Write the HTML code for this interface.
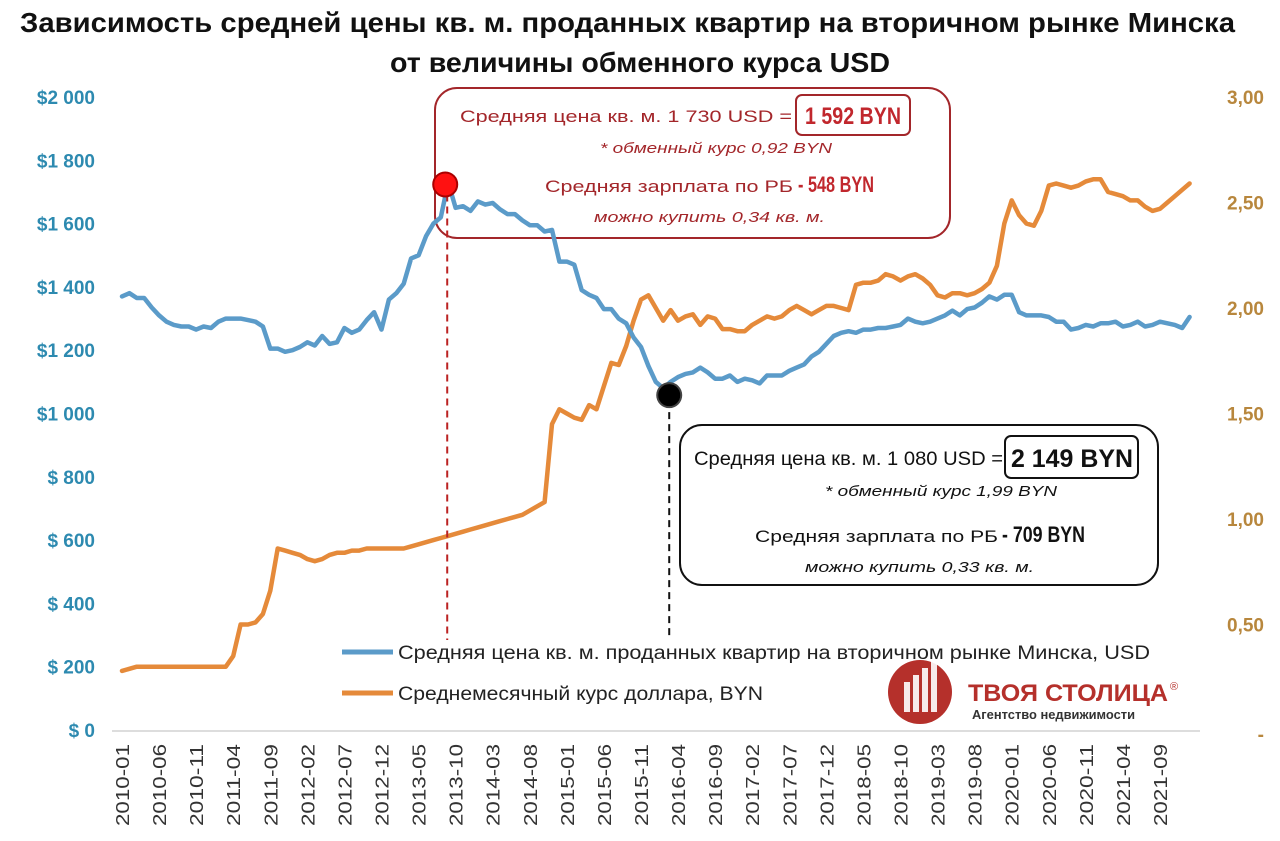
<!DOCTYPE html>
<html><head><meta charset="utf-8">
<style>
body{margin:0;background:#fff;font-family:"Liberation Sans",sans-serif;}
#wrap{position:relative;width:1280px;height:841px;overflow:hidden;background:#fff}
</style></head><body>
<div id="wrap">
<svg id="svg" width="1280" height="841" style="position:absolute;left:0;top:0"></svg>
</div>
<script>
const priceUSD=[1370,1380,1365,1365,1335,1310,1290,1280,1275,1275,1265,1275,1270,1290,1300,1300,1300,1295,1290,1275,1205,1205,1195,1200,1210,1225,1215,1245,1220,1225,1270,1255,1265,1295,1320,1265,1360,1380,1410,1490,1500,1560,1600,1620,1730,1650,1655,1640,1670,1660,1665,1645,1630,1630,1610,1595,1595,1575,1580,1480,1480,1470,1390,1375,1365,1330,1330,1300,1285,1240,1210,1150,1100,1080,1100,1115,1125,1130,1145,1130,1110,1110,1120,1100,1110,1105,1095,1120,1120,1120,1135,1145,1155,1180,1195,1220,1245,1255,1260,1255,1265,1265,1270,1270,1275,1280,1300,1290,1285,1290,1300,1310,1325,1310,1330,1335,1350,1370,1360,1375,1375,1320,1310,1310,1310,1305,1290,1290,1265,1270,1280,1275,1285,1285,1290,1275,1280,1290,1275,1280,1290,1285,1280,1270,1305];
const rateBYN=[0.28,0.29,0.30,0.30,0.30,0.30,0.30,0.30,0.30,0.30,0.30,0.30,0.30,0.30,0.30,0.35,0.50,0.50,0.51,0.55,0.66,0.86,0.85,0.84,0.83,0.81,0.80,0.81,0.83,0.84,0.84,0.85,0.85,0.86,0.86,0.86,0.86,0.86,0.86,0.87,0.88,0.89,0.90,0.91,0.92,0.93,0.94,0.95,0.96,0.97,0.98,0.99,1.00,1.01,1.02,1.04,1.06,1.08,1.45,1.52,1.50,1.48,1.47,1.54,1.52,1.63,1.74,1.73,1.82,1.94,2.04,2.06,2.00,1.94,1.99,1.94,1.96,1.97,1.92,1.96,1.95,1.90,1.90,1.89,1.89,1.92,1.94,1.96,1.95,1.96,1.99,2.01,1.99,1.97,1.99,2.01,2.01,2.00,1.99,2.11,2.12,2.12,2.13,2.16,2.15,2.13,2.15,2.16,2.14,2.11,2.06,2.05,2.07,2.07,2.06,2.07,2.09,2.12,2.20,2.40,2.51,2.44,2.40,2.39,2.46,2.58,2.59,2.58,2.57,2.58,2.60,2.61,2.61,2.55,2.54,2.53,2.51,2.51,2.48,2.46,2.47,2.50,2.53,2.56,2.59];
const leftTicks=[0,200,400,600,800,1000,1200,1400,1600,1800,2000];
const leftLabels=["$ 0","$ 200","$ 400","$ 600","$ 800","$1 000","$1 200","$1 400","$1 600","$1 800","$2 000"];
const rightTicks=[0,0.5,1,1.5,2,2.5,3];
const rightLabels=["-","0,50","1,00","1,50","2,00","2,50","3,00"];
const xLabels=["2010-01","2010-06","2010-11","2011-04","2011-09","2012-02","2012-07","2012-12","2013-05","2013-10","2014-03","2014-08","2015-01","2015-06","2015-11","2016-04","2016-09","2017-02","2017-07","2017-12","2018-05","2018-10","2019-03","2019-08","2020-01","2020-06","2020-11","2021-04","2021-09"];
const peakIdx=44, lowIdx=73;

const NS="http://www.w3.org/2000/svg";
const svg=document.getElementById('svg');
const xS=m=>122+7.414*m;
const yL=v=>730-v*633/2000;
const yR=v=>730-v*211;
function mk(t,a,p){const e=document.createElementNS(NS,t);for(const k in a)e.setAttribute(k,a[k]);(p||svg).appendChild(e);return e;}
function txt(x,y,s,sz,col,extra){const t=mk('text',Object.assign({x,y,'font-size':sz,fill:col},extra||{}));t.innerHTML=s;return t;}

const t1=txt(20,32,'Зависимость средней цены кв. м. проданных квартир на вторичном рынке Минска',28,'#111',{'font-weight':'bold',textLength:1215,lengthAdjust:'spacingAndGlyphs'});


const t2=txt(390,72,'от величины обменного курса USD',28,'#111',{'font-weight':'bold',textLength:500,lengthAdjust:'spacingAndGlyphs'});



leftTicks.forEach((v,i)=>{const t=mk('text',{x:95,y:yL(v)+7,'text-anchor':'end','font-size':19,'font-weight':'bold',fill:'#2d8ab0'});t.textContent=leftLabels[i];

});
rightTicks.forEach((v,i)=>{const t=mk('text',{x:1264,y:yR(v)+7+(v===0?4:0),'text-anchor':'end','font-size':19,'font-weight':'bold',fill:'#b8873d'});t.textContent=rightLabels[i];

});
mk('line',{x1:112,y1:731,x2:1200,y2:731,stroke:'#bbb','stroke-width':1});
xLabels.forEach((l,i)=>{const x=xS(i*5);const t=mk('text',{x:0,y:0,transform:`translate(${x+7},744) rotate(-90)`,'text-anchor':'end','font-size':18,fill:'#333',textLength:82,lengthAdjust:'spacingAndGlyphs'});t.textContent=l;

});

// boxes (outline only, behind lines)
const b1=mk('rect',{x:435,y:88,width:515,height:150,rx:22,fill:'none',stroke:'#a3262a','stroke-width':2});


mk('rect',{x:796,y:95,width:114,height:40,rx:6,fill:'none',stroke:'#a3262a','stroke-width':2});
const b2=mk('rect',{x:680,y:425,width:478,height:160,rx:22,fill:'#fff',stroke:'#111','stroke-width':2});


mk('rect',{x:1005,y:436,width:133,height:42,rx:6,fill:'none',stroke:'#111','stroke-width':2});

function line(arr,ys,col,name){const d=arr.map((v,i)=>(i?'L':'M')+xS(i).toFixed(1)+' '+ys(v).toFixed(1)).join(' ');const p=mk('path',{d,fill:'none',stroke:col,'stroke-width':4.5,'stroke-linejoin':'round','stroke-linecap':'round'});

}
line(rateBYN,yR,'#e58a3a','rate-line');
line(priceUSD,yL,'#5b9bc9','price-line');

const px=xS(peakIdx),py=yL(priceUSD[peakIdx]),lx=xS(lowIdx)+6,ly=yL(priceUSD[lowIdx]);
mk('line',{x1:px-1,y1:py,x2:px-1,y2:640,stroke:'#b22',"stroke-width":2,'stroke-dasharray':'7,5'});
mk('line',{x1:lx,y1:ly,x2:lx,y2:640,stroke:'#111',"stroke-width":2,'stroke-dasharray':'7,5'});
const d1=mk('circle',{cx:px-3,cy:py+2,r:12,fill:'#f11',stroke:'#a00','stroke-width':2});


const d2=mk('circle',{cx:lx,cy:ly+7,r:12,fill:'#000',stroke:'#444','stroke-width':2});



const L={lengthAdjust:'spacingAndGlyphs'};
txt(460,122,'Средняя цена кв. м. 1 730 USD =',17,'#a3262a',Object.assign({textLength:332},L));
txt(805,124,'1 592 BYN',24,'#c1272d',Object.assign({'font-weight':'bold',textLength:96},L));
txt(600,153,'* обменный курс 0,92 BYN',15,'#a3262a',Object.assign({'font-style':'italic',textLength:232},L));
txt(545,192,'Средняя зарплата по РБ',17,'#a3262a',Object.assign({textLength:248},L));
txt(798,192,'- 548 BYN',22,'#c1272d',Object.assign({'font-weight':'bold',textLength:76},L));
txt(594,222,'можно купить 0,34 кв. м.',15,'#a3262a',Object.assign({'font-style':'italic',textLength:231},L));

txt(694,465,'Средняя цена кв. м. 1 080 USD =',19,'#111',Object.assign({textLength:309},L));
txt(1011,467,'2 149 BYN',25,'#111',Object.assign({'font-weight':'bold',textLength:122},L));
txt(825,496,'* обменный курс 1,99 BYN',15,'#111',Object.assign({'font-style':'italic',textLength:232},L));
txt(755,542,'Средняя зарплата по РБ',17,'#111',Object.assign({textLength:243},L));
txt(1002,542,'- 709 BYN',22,'#111',Object.assign({'font-weight':'bold',textLength:83},L));
txt(805,572,'можно купить 0,33 кв. м.',15,'#111',Object.assign({'font-style':'italic',textLength:229},L));

// legend
mk('line',{x1:342,y1:652,x2:393,y2:652,stroke:'#5b9bc9','stroke-width':5});
const lg1=txt(398,659,'Средняя цена кв. м. проданных квартир на вторичном рынке Минска, USD',19,'#222',Object.assign({textLength:752},L));


mk('line',{x1:342,y1:693,x2:393,y2:693,stroke:'#e58a3a','stroke-width':5});
const lg2=txt(398,700,'Среднемесячный курс доллара, BYN',19,'#222',Object.assign({textLength:365},L));



// logo
mk('circle',{cx:920,cy:692,r:32,fill:'#b5302b'});
for(let i=0;i<4;i++)mk('rect',{x:904+i*9,y:682-i*7,width:6,height:30+i*7,fill:'#fff',opacity:0.9});
const lg=txt(968,701,'ТВОЯ СТОЛИЦА',24,'#b5302b',Object.assign({'font-weight':'bold',textLength:200},L));


txt(1170,690,'®',11,'#b5302b');
txt(972,719,'Агентство недвижимости',13,'#333',Object.assign({'font-weight':'bold',textLength:163},L));
</script>
</body></html>
